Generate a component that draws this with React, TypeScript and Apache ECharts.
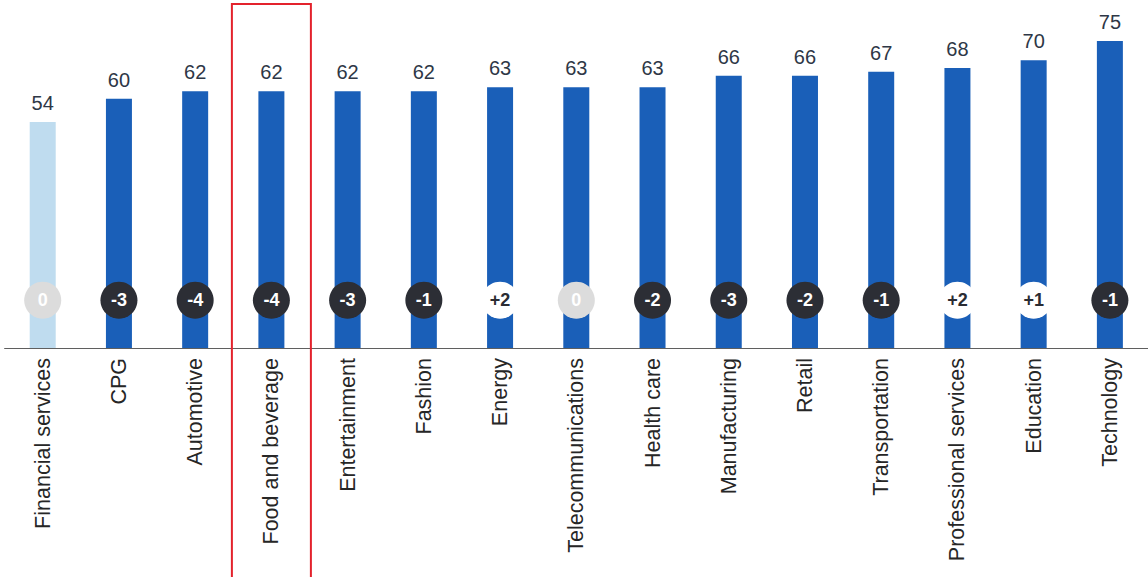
import React, { useEffect, useRef } from "react";
import * as echarts from "echarts";

// Index score by industry, with year-over-year change shown in the badges
const categories = [
  "Financial services",
  "CPG",
  "Automotive",
  "Food and beverage",
  "Entertainment",
  "Fashion",
  "Energy",
  "Telecommunications",
  "Health care",
  "Manufacturing",
  "Retail",
  "Transportation",
  "Professional services",
  "Education",
  "Technology",
];
const scores = [54, 60, 62, 62, 62, 62, 63, 63, 63, 66, 66, 67, 68, 70, 75];
const changes = [0, -3, -4, -4, -3, -1, 2, 0, -2, -3, -2, -1, 2, 1, -1];
const highlighted = "Food and beverage";
const mutedCategory = "Financial services";

// layout constants
const W = 1148;
const H = 577;
const Y_MIN = -4.6;
const Y_MAX = 80;
const BADGE_LEVEL = 7.8;
const BAR_W = 26;

const BLUE = "#1a5fb8";
const LIGHT_BLUE = "#bfdcef";
const FONT = "'Liberation Sans', Arial, Helvetica, sans-serif";

function badgeStyle(c: number) {
  if (c === 0) return { fill: "#dcdcdc", text: "#ffffff" };
  if (c > 0) return { fill: "#ffffff", text: "#2a2c33" };
  return { fill: "#2c2e35", text: "#ffffff" };
}

export default function App() {
  const ref = useRef<HTMLDivElement>(null);

  useEffect(() => {
    if (!ref.current) return;
    const chart = echarts.init(ref.current, undefined, { renderer: "svg" });

    // bars rise from the bottom of the plot area up to each score
    const barData = scores.map((v, i) => [i, v]);

    const badgeData = changes.map((c, i) => {
      const s = badgeStyle(c);
      return {
        value: [categories[i], BADGE_LEVEL],
        change: c,
        itemStyle: { color: s.fill, opacity: 1 },
        label: { color: s.text },
      };
    });

    chart.setOption({
      animation: false,
      grid: { left: 4.6, width: 1151.3, top: 21.7, height: 326.3 },
      xAxis: {
        type: "category",
        data: categories,
        axisLine: { show: true, onZero: false, lineStyle: { color: "#5f5f5f", width: 1 } },
        axisTick: { show: false },
        axisLabel: {
          rotate: 90,
          margin: 10,
          fontSize: 21.5,
          color: "#262626",
          fontFamily: FONT,
          interval: 0,
        },
      },
      yAxis: {
        type: "value",
        min: Y_MIN,
        max: Y_MAX,
        show: false,
        splitLine: { show: false },
      },
      series: [
        {
          type: "custom",
          data: barData,
          encode: { x: 0, y: 1 },
          z: 2,
          renderItem: (params: any, api: any) => {
            const idx = api.value(0);
            const val = api.value(1);
            const top = api.coord([idx, val]);
            const base = api.coord([idx, Y_MIN]);
            const muted = categories[idx] === mutedCategory;
            return {
              type: "rect",
              shape: {
                x: top[0] - BAR_W / 2,
                y: top[1],
                width: BAR_W,
                height: base[1] - top[1],
              },
              style: { fill: muted ? LIGHT_BLUE : BLUE },
              textContent: {
                style: {
                  text: String(val),
                  fontSize: 20,
                  fill: "#2e3746",
                  fontFamily: FONT,
                },
              },
              textConfig: { position: "top", distance: 9 },
            };
          },
        },
        {
          type: "scatter",
          data: badgeData,
          symbol: "circle",
          symbolSize: 37,
          z: 5,
          itemStyle: { opacity: 1 },
          label: {
            show: true,
            position: "inside",
            fontSize: 18,
            fontWeight: "bold",
            fontFamily: FONT,
            formatter: (p: any) => {
              const c = p.data.change as number;
              return c > 0 ? "+" + c : String(c);
            },
          },
        },
      ],
    });

    // outline around the highlighted industry
    const cx = chart.convertToPixel({ xAxisIndex: 0 }, highlighted) as number;
    const boxW = 79;
    chart.setOption({
      graphic: [
        {
          type: "rect",
          shape: { x: cx - boxW / 2, y: 4, width: boxW, height: H },
          style: { fill: "none", stroke: "#e3222c", lineWidth: 2 },
          z: 10,
        },
      ],
    });

    return () => chart.dispose();
  }, []);

  return (
    <div
      ref={ref}
      style={{ position: "absolute", left: 0, top: 0, width: W, height: H, background: "#fff" }}
    />
  );
}
